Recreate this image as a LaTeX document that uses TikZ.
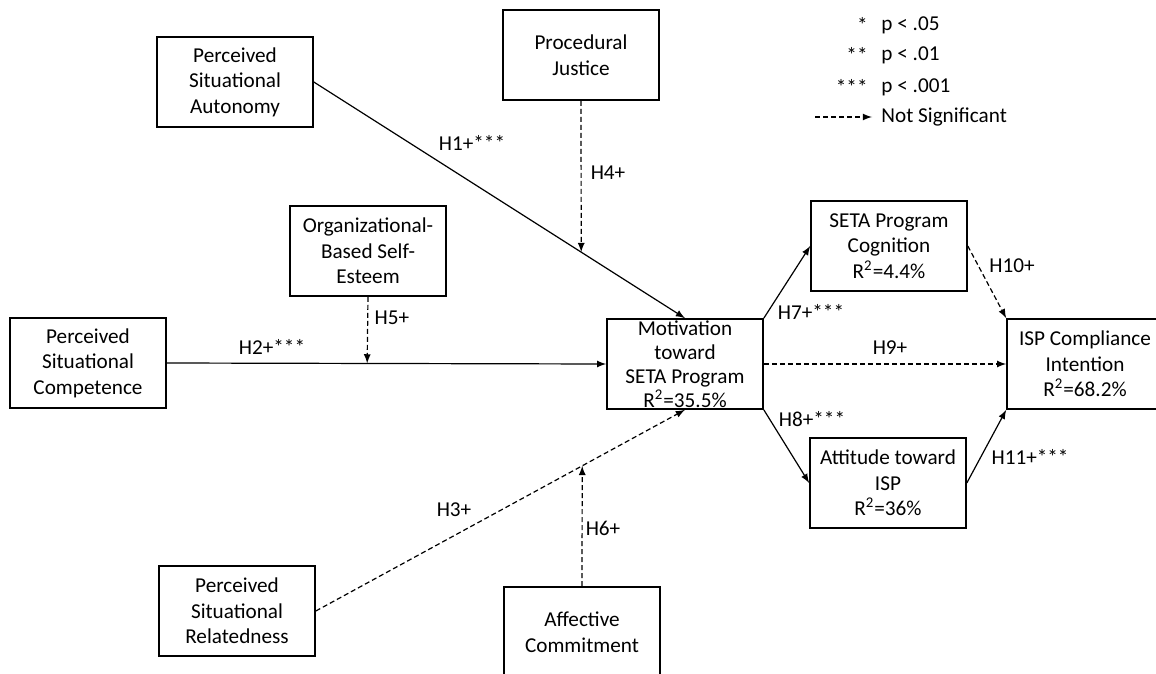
\documentclass[tikz,border=0pt]{standalone}
\usepackage{fontspec}
\setmainfont{Carlito}
\usepackage{tikz}
\usetikzlibrary{arrows}

\begin{document}
\begin{tikzpicture}[x=0.5pt,y=-0.5pt,>=latex,font=\fontsize{10.6}{12.8}\selectfont,
	construct/.style={draw,line width=0.8pt,align=center,inner sep=0pt,minimum width=78pt,minimum height=45pt},
	link/.style={->,line width=0.6pt},
	nslink/.style={link,dash pattern=on 2.5pt off 1.5pt},
	keytext/.style={inner ysep=0pt,inner xsep=4.5pt,anchor=west},
	keystar/.style={inner ysep=0pt,inner xsep=1pt,anchor=east}]
	\useasboundingbox (0,0) rectangle (1156,674);
	\node[construct] (psa) at (235,82) {Perceived\\Situational\\Autonomy};
	\node[construct] (pj) at (581,55) {Procedural\\Justice};
	\node[construct] (obse) at (368,251) {Organizational-\\Based Self-\\Esteem};
	\node[construct] (psc) at (88,363) {Perceived\\Situational\\Competence};
	\node[construct,font=\fontsize{10.6}{12}\selectfont] (mot) at (685,364) {Motivation\\toward\\SETA Program\\R\textsuperscript{2}=35.5\%};
	\node[construct] (sc) at (889,246) {SETA Program\\Cognition\\R\textsuperscript{2}=4.4\%};
	\node[construct] (att) at (888,483) {Attitude toward\\ISP\\R\textsuperscript{2}=36\%};
	\node[construct] (isp) at (1085,364) {ISP Compliance\\Intention\\R\textsuperscript{2}=68.2\%};
	\node[construct] (psr) at (237,611) {Perceived\\Situational\\Relatedness};
	\node[construct] (ac) at (582,632) {Affective\\Commitment};

	\draw[link] (psa.east) -- coordinate[pos=0.7204] (jpa) (mot.north);
	\draw[link] (psc.east) -- coordinate[pos=0.456] (jpc) (mot.west);
	\draw[nslink] (psr.east) -- coordinate[pos=0.7216] (jpr) (mot.south);
	\draw[nslink] (pj.south) -- (jpa);
	\draw[nslink] (obse.south) -- (jpc);
	\draw[nslink] (ac.north) -- (jpr);
	\draw[link] (mot.north east) -- (sc.west);
	\draw[link] (mot.south east) -- (att.west);
	\draw[nslink] (mot.east) -- (isp.west);
	\draw[nslink] (sc.east) -- (isp.north west);
	\draw[link] (att.east) -- (isp.south west);

	\node (h1) at (472,143) {H1+***};
	\node (h2) at (272,347) {H2+***};
	\node (h3) at (454,510) {H3+};
	\node (h4) at (608,173) {H4+};
	\node (h5) at (392,318) {H5+};
	\node (h6) at (603,528) {H6+};
	\node (h7) at (811,312) {H7+***};
	\node (h8) at (812,419) {H8+***};
	\node (h9) at (890,348) {H9+};
	\node (h10) at (1012,266) {H10+};
	\node (h11) at (1030,457) {H11+***};

	\node[keystar] (s1) at (870,25) {*};
	\node[keytext] (p1) at (872,25) {p < .05};
	\node[keystar] (s2) at (870,55) {**};
	\node[keytext] (p2) at (872,55) {p < .01};
	\node[keystar] (s3) at (870,87) {***};
	\node[keytext] (p3) at (872,87) {p < .001};
	\coordinate (ns0) at (815,117);
	\node[keytext] (ns) at (872,117) {Not Significant};
	\draw[nslink] (ns0) -- (ns.west);
\end{tikzpicture}
\end{document}
